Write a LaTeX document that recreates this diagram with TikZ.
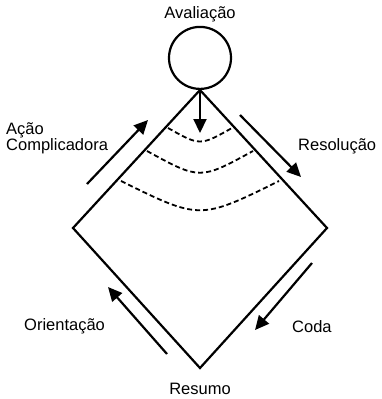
\documentclass[tikz,border=0pt]{standalone}
\usepackage{fontspec}
\setmainfont{Liberation Sans}
\usetikzlibrary{arrows.meta, positioning}

\begin{document}
\begin{tikzpicture}[
    x=1pt, y=-1pt,
    edge/.style = {line width=2.2pt},
    circ/.style = {draw, circle, line width=2.2pt, minimum size=62pt, inner sep=0pt},
    arrow/.style = {line width=2.2pt, -{Triangle[length=14pt, width=13pt]}},
    arcline/.style = {line width=1.8pt, dash pattern=on 5pt off 3pt},
    lbl/.style = {font=\fontsize{16.5}{16}\selectfont, inner sep=0pt, align=left}
  ]
  \useasboundingbox (0,0) rectangle (381,399);

  % Diamond corners
  \coordinate (top) at (200,90);
  \coordinate (left) at (73,228);
  \coordinate (right) at (327,228);
  \coordinate (bottom) at (200,368);

  % Diamond
  \draw[edge, line join=miter] (top) -- (left) -- (bottom) -- (right) -- cycle;

  % Circle on the top corner
  \node[circ, above=0pt of top] (eval) {};
  \node[lbl, above=4pt of eval] (avaliacao) {Avaliação};

  % Arrow from circle down into the diamond
  \coordinate (down) at (200,133);
  \draw[arrow] (eval.south) -- (down);

  % Dashed arcs across the top corner
  \coordinate (a1) at (168,128); \coordinate (b1) at (232,128);
  \coordinate (a2) at (147,151); \coordinate (b2) at (253,151);
  \coordinate (a3) at (121,181); \coordinate (b3) at (279,181);
  \draw[arcline] (a1) .. controls (200,146) .. (b1);
  \draw[arcline] (a2) .. controls (200,180) .. (b2);
  \draw[arcline] (a3) .. controls (200,220) .. (b3);

  % Arrows along the sides
  \coordinate (ac0) at (87,184);  \coordinate (ac1) at (148,120);
  \coordinate (re0) at (240,115); \coordinate (re1) at (301,177);
  \coordinate (or0) at (167,354); \coordinate (or1) at (108,287);
  \coordinate (co0) at (312,263); \coordinate (co1) at (255,330);
  \draw[arrow] (ac0) -- (ac1);
  \draw[arrow] (re0) -- (re1);
  \draw[arrow] (or0) -- (or1);
  \draw[arrow] (co0) -- (co1);

  % Labels
  \node[lbl, anchor=west] (acao) at (6,138) {Ação\\Complicadora};
  \node[lbl, anchor=west] (resolucao) at (298,146) {Resolução};
  \node[lbl, anchor=west] (orientacao) at (24,326) {Orientação};
  \node[lbl, anchor=west] (coda) at (292,327) {Coda};
  \node[lbl, below=15pt of bottom] (resumo) {Resumo};

\end{tikzpicture}
\end{document}
